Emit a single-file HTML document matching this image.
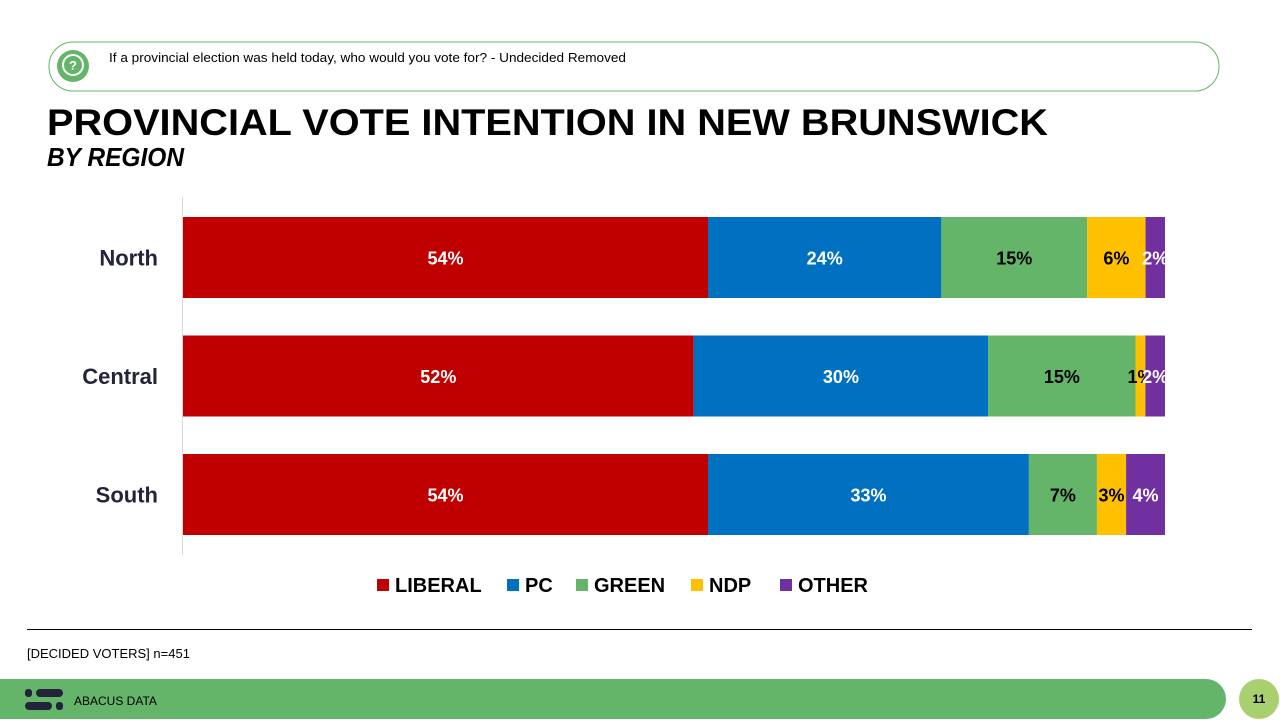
<!DOCTYPE html>
<html><head><meta charset="utf-8"><style>
body{margin:0;width:1280px;height:720px;overflow:hidden;background:#fff;font-family:"Liberation Sans",sans-serif}
svg{display:block}
</style></head><body>
<svg width="1280" height="720">
<rect x="49" y="42" width="1170" height="49" rx="24" fill="#fff" stroke="#64b56a" stroke-width="1"/>
<circle cx="73" cy="66" r="16" fill="#64b56a"/>
<circle cx="73" cy="65" r="10" fill="none" stroke="#fff" stroke-width="2"/>
<text x="73" y="70" font-size="13" font-weight="bold" fill="#fff" text-anchor="middle">?</text>
<text x="109" y="62" font-size="13" fill="#000" textLength="517" lengthAdjust="spacingAndGlyphs">If a provincial election was held today, who would you vote for? - Undecided Removed</text>
<text x="47" y="135" font-size="37" font-weight="bold" fill="#000" textLength="1001" lengthAdjust="spacingAndGlyphs">PROVINCIAL VOTE INTENTION IN NEW BRUNSWICK</text>
<text x="47" y="166" font-size="26" font-weight="bold" font-style="italic" fill="#000" textLength="137" lengthAdjust="spacingAndGlyphs">BY REGION</text>
<line x1="182.5" y1="197" x2="182.5" y2="555" stroke="#d9d9d9"/>
<g id="bars"></g>
<g id="legend"></g>
<line x1="27" y1="629.5" x2="1252" y2="629.5" stroke="#000"/>
<text x="27" y="658" font-size="13" fill="#000">[DECIDED VOTERS] n=451</text>
<path d="M0 679 H1206 A20 20 0 0 1 1206 719 H0 Z" fill="#64b56a"/>
<rect x="25" y="689" width="7" height="8" rx="3" fill="#23233a"/><rect x="36" y="689" width="27" height="8" rx="4" fill="#23233a"/>
<rect x="25" y="702" width="27" height="8" rx="4" fill="#23233a"/><rect x="56" y="702" width="7" height="8" rx="3" fill="#23233a"/>
<text x="74" y="705" font-size="12" fill="#000">ABACUS DATA</text>
<ellipse cx="1259" cy="699" rx="20" ry="20" fill="#a9d06e"/>
<text x="1259" y="703" font-size="12" font-weight="bold" text-anchor="middle" fill="#000">11</text>
</svg>
<script>
const regions=["North","Central","South"];
const parties=["LIBERAL","PC","GREEN","NDP","OTHER"];
const liberal=[54,52,54];
const pc=[24,30,33];
const green=[15,15,7];
const ndp=[6,1,3];
const other=[2,2,4];
const colors=["#c00000","#0070c0","#64b56a","#ffc000","#7030a0"];
const textColors=["#fff","#fff","#000","#000","#fff"];
const NS="http://www.w3.org/2000/svg";
const g=document.getElementById('bars');
const x0=183,x1=1165,top0=217,step=118.5,bh=81;
const series=[liberal,pc,green,ndp,other];
function mk(t,a){const e=document.createElementNS(NS,t);for(const k in a)e.setAttribute(k,a[k]);return e;}
regions.forEach((r,i)=>{
  const y=top0+i*step;
  const lab=mk('text',{x:158,y:y+bh/2+8,'font-size':22,'font-weight':'bold','text-anchor':'end',fill:'#23233a'});
  
  
  lab.textContent=r;g.appendChild(lab);
  const sum=series.reduce((s,a)=>s+a[i],0);
  let x=x0;
  series.forEach((s,j)=>{
    const w=s[i]/sum*(x1-x0);
    const rc=mk('rect',{x:x,y:y,width:w,height:bh,fill:colors[j]});
    
    
    g.appendChild(rc);
    const t=mk('text',{x:x+w/2,y:y+bh/2+7,'font-size':18,'font-weight':'bold','text-anchor':'middle',fill:textColors[j]});
    
    
    t.textContent=s[i]+'%';g.appendChild(t);
    x+=w;
  });
});
const lg=document.getElementById('legend');
const lx=[377,507,576,691,780];
parties.forEach((p,j)=>{
  const e=mk('g',{});
  
  
  e.appendChild(mk('rect',{x:lx[j],y:579,width:12,height:12,fill:colors[j]}));
  const t=mk('text',{x:lx[j]+18,y:592,'font-size':20,'font-weight':'bold',fill:'#000'});
  t.textContent=p;e.appendChild(t);lg.appendChild(e);
});
</script>
</body></html>
